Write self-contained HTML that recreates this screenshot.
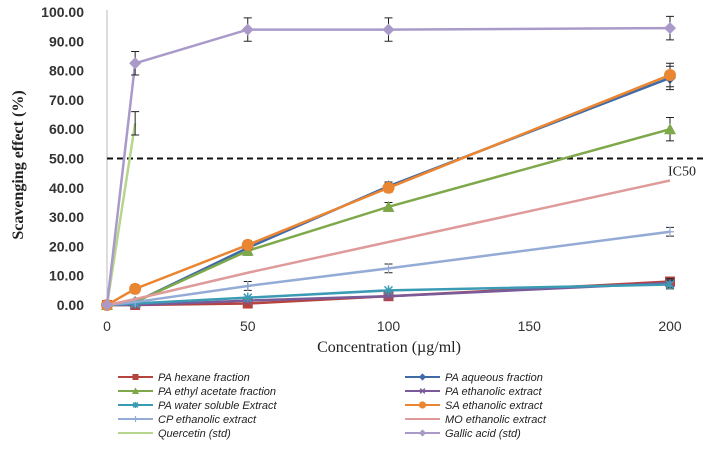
<!DOCTYPE html>
<html><head><meta charset="utf-8"><style>
body{margin:0;background:#fff;}
svg{display:block;font-family:"Liberation Sans",sans-serif;}
</style></head><body>
<svg id="c" width="705" height="450"></svg>
<script>
const xCats=[0,10,50,100,200];
const xTicks=[0,50,100,150,200];
const yTicks=[0,10,20,30,40,50,60,70,80,90,100];
const hexane=[0,0,0.5,3,8];
const aqueous=[0,1,19.5,40.5,77.5];
const ethylAcetate=[0,1,18.5,33.5,60];
const paEthanolic=[0,0,1.5,3,7.5];
const waterSoluble=[0,0.5,2.5,5,7];
const saEthanolic=[0,5.5,20.5,40,78.5];
const cpEthanolic=[0,1,6.5,12.5,25];
const moEthanolic=[0,2,11,21.5,42.5];
const quercetin=[0,62];
const gallic=[0,82.5,94,94,94.5];
const ic50=50;
const series=[
 {n:"PA hexane fraction",d:hexane,c:"#b5443f",m:"sq",col:0},
 {n:"PA aqueous fraction",d:aqueous,c:"#3f6aa8",m:"dia",col:1},
 {n:"PA ethyl acetate fraction",d:ethylAcetate,c:"#7fa84a",m:"tri",col:0},
 {n:"PA ethanolic extract",d:paEthanolic,c:"#7a5a99",m:"x",col:1},
 {n:"PA water soluble Extract",d:waterSoluble,c:"#3b9bb5",m:"star",col:0},
 {n:"SA ethanolic extract",d:saEthanolic,c:"#ea8532",m:"circ",col:1},
 {n:"CP ethanolic extract",d:cpEthanolic,c:"#94abd6",m:"plus",col:0},
 {n:"MO ethanolic extract",d:moEthanolic,c:"#df9a9a",m:"none",col:1},
 {n:"Quercetin (std)",d:quercetin,c:"#b8d58c",m:"none",col:0},
 {n:"Gallic acid (std)",d:gallic,c:"#a99ac9",m:"dia",col:1}
];
const svg=document.getElementById('c');
const NS="http://www.w3.org/2000/svg";
const X=v=>107+v*2.815, Y=v=>305-v*2.93;
function el(t,a,p){const e=document.createElementNS(NS,t);for(const k in a)e.setAttribute(k,a[k]);(p||svg).appendChild(e);return e;}
function marker(g,m,x,y,c,s){
 s=s||1;
 if(m==="sq")el('rect',{x:x-5*s,y:y-5*s,width:10*s,height:10*s,fill:c},g);
 else if(m==="dia")el('polygon',{points:`${x},${y-6*s} ${x+6*s},${y} ${x},${y+6*s} ${x-6*s},${y}`,fill:c},g);
 else if(m==="tri")el('polygon',{points:`${x},${y-6*s} ${x+6*s},${y+5*s} ${x-6*s},${y+5*s}`,fill:c},g);
 else if(m==="circ")el('circle',{cx:x,cy:y,r:6*s,fill:c},g);
 else if(m==="x"){el('path',{d:`M${x-4*s} ${y-4*s}L${x+4*s} ${y+4*s}M${x+4*s} ${y-4*s}L${x-4*s} ${y+4*s}`,stroke:c,'stroke-width':1.5},g);}
 else if(m==="star"){el('path',{d:`M${x-4*s} ${y-4*s}L${x+4*s} ${y+4*s}M${x+4*s} ${y-4*s}L${x-4*s} ${y+4*s}M${x} ${y-5*s}L${x} ${y+5*s}`,stroke:c,'stroke-width':1.5},g);}
 else if(m==="plus"){el('path',{d:`M${x-4*s} ${y}L${x+4*s} ${y}M${x} ${y-5*s}L${x} ${y+5*s}`,stroke:c,'stroke-width':1.2},g);}
}
const ax=el('line',{x1:107,y1:10,x2:107,y2:305,stroke:'#bbb','stroke-width':1});

yTicks.forEach(t=>{const e=el('text',{x:84,y:Y(t)+5,'text-anchor':'end','font-size':14,'font-weight':'bold',fill:'#333'});e.textContent=t.toFixed(2);
});
xTicks.forEach(t=>{const e=el('text',{x:X(t),y:331,'text-anchor':'middle','font-size':14,fill:'#333'});e.textContent=t;
});
const yt=el('text',{x:0,y:0,transform:'translate(23,165) rotate(-90)','text-anchor':'middle','font-size':16,'font-weight':'bold','font-family':'Liberation Serif,serif',fill:'#222'});
yt.textContent='Scavenging effect (%)';
const xt=el('text',{x:389,y:352,'text-anchor':'middle','font-size':16,'font-family':'Liberation Serif,serif',fill:'#222'});
xt.textContent='Concentration (µg/ml)';
const il=el('line',{x1:107,y1:Y(ic50),x2:705,y2:Y(ic50),stroke:'#111','stroke-width':2,'stroke-dasharray':'6,4'});

const it=el('text',{x:668,y:Y(ic50)+17,'font-size':14,'font-family':'Liberation Serif,serif',fill:'#222'});
it.textContent='IC50';
series.forEach(s=>{
 const g=el('g',{});
 const pts=s.d.map((v,i)=>X(xCats[i])+','+Y(v)).join(' ');
 el('polyline',{points:pts,fill:'none',stroke:s.c,'stroke-width':2.5},g);
 s.d.forEach((v,i)=>{
  if(i>0 && (s.m!=="none"||s.n.startsWith("Quercetin"))&& v>5){
   const x=X(xCats[i]),y=Y(v),e=v>50?4:1.5;
   el('path',{d:`M${x} ${Y(v+e)}V${Y(v-e)}M${x-4} ${Y(v+e)}H${x+4}M${x-4} ${Y(v-e)}H${x+4}`,stroke:'#222','stroke-width':1},g);
  }
  marker(g,s.m,X(xCats[i]),Y(v),s.c);
 });
});
series.forEach((s,i)=>{
 const row=Math.floor(i/2),lx=s.col?405:118,ly=377+row*14;
 const g=el('g',{});
 el('line',{x1:lx,y1:ly,x2:lx+35,y2:ly,stroke:s.c,'stroke-width':2},g);
 marker(g,s.m,lx+17.5,ly,s.c,0.6);
 const t=el('text',{x:lx+40,y:ly+4,'font-size':11,'font-style':'italic',fill:'#222'},g);t.textContent=s.n;
});
</script>
</body></html>
